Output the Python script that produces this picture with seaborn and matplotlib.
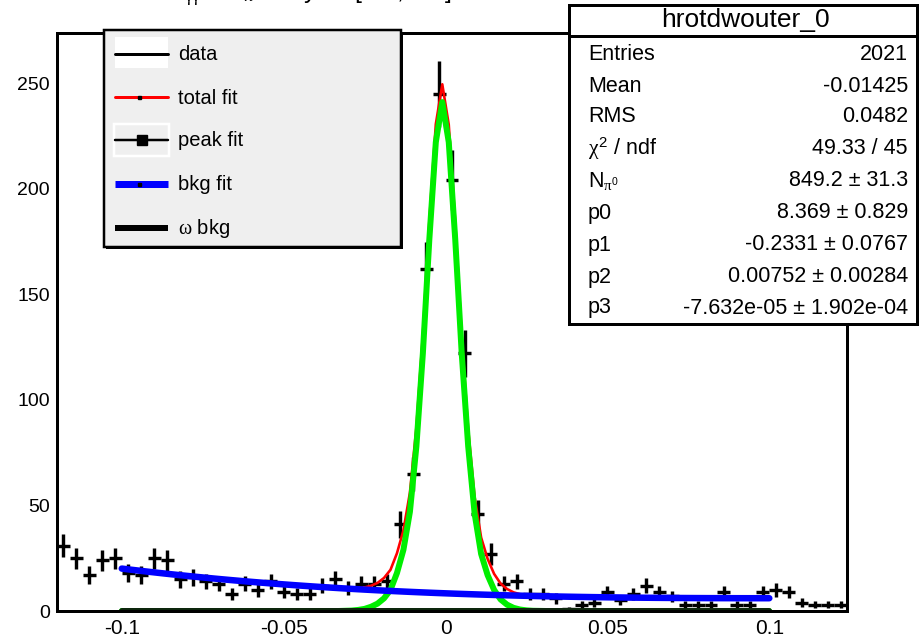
import numpy as np
import matplotlib
matplotlib.use("Agg")
import matplotlib.pyplot as plt
import seaborn as sns
from matplotlib.patches import Rectangle
from matplotlib.ticker import MultipleLocator

# ---------------- data ----------------
bin_low = -0.12
bin_width = 0.004
counts = [31, 25, 17, 24, 25, 18, 17, 25, 24, 15,
          16, 14, 13, 8, 13, 10, 14, 9, 8, 8,
          12, 15, 11, 13, 13, 14, 41, 65, 162, 245,
          204, 122, 46, 27, 13, 14, 8, 8, 6, 1,
          3, 4, 9, 5, 8, 12, 9, 7, 3, 3,
          3, 9, 3, 3, 9, 10, 9, 4, 3, 3,
          3]

# background polynomial (fit parameters shown in the stats box), u = x / bin width
bkg_params = [8.369, -0.2331, 0.00752, -7.632e-05]

# peak fit curve
peak_x = [-0.031, -0.029, -0.027, -0.025, -0.023, -0.021, -0.019, -0.017, -0.015,
          -0.013, -0.011, -0.009, -0.007, -0.005, -0.003, -0.001,
          0.001, 0.003, 0.005, 0.007, 0.009, 0.011, 0.013, 0.015, 0.017,
          0.019, 0.021, 0.023, 0.025, 0.027, 0.029]
peak_y = [0.1, 0.2, 0.5, 1.0, 2.0, 3.5, 6.0, 10.0, 18.0,
          29.0, 47.0, 78.0, 122.0, 176.0, 222.0, 241.0,
          222.0, 176.0, 122.0, 78.0, 46.0, 27.0, 17.0, 10.0, 5.5,
          3.0, 1.5, 0.7, 0.3, 0.1, 0.05]

fit_range = (-0.1, 0.1)

x_ticks = [-0.1, -0.05, 0, 0.05, 0.1]
x_tick_labels = ["-0.1", "-0.05", "0", "0.05", "0.1"]
y_ticks = [0, 50, 100, 150, 200, 250]

title_text = r"m$_{\gamma\gamma}$ - m$_{\pi^{0}}$ for y $\in$ [0.0, 0.5]"
stats_title = "hrotdwouter_0"
stats_labels = ["Entries", "Mean", "RMS", r"$\chi^{2}$ / ndf", r"N$_{\pi^{0}}$",
                "p0", "p1", "p2", "p3"]
stats_values = ["2021", "-0.01425", "0.0482", "49.33 / 45", "849.2 ± 31.3",
                "8.369 ± 0.829", "-0.2331 ± 0.0767", "0.00752 ± 0.00284",
                "-7.632e-05 ± 1.902e-04"]
legend_labels = ["data", "total fit", "peak fit", "bkg fit", r"$\omega$ bkg"]

# ---------------- derived ----------------
counts = np.array(counts, dtype=float)
centers = bin_low + bin_width * (np.arange(len(counts)) + 0.5)
errs = np.sqrt(counts)

grid = np.concatenate([[fit_range[0]], np.arange(-0.099, 0.0995, 0.002), [fit_range[1]]])
u = grid / bin_width
bkg = sum(p * u ** k for k, p in enumerate(bkg_params))
peak = np.zeros_like(grid)
for px, py in zip(peak_x, peak_y):
    peak[np.isclose(grid, px)] = py
total = peak + bkg

# ---------------- style ----------------
sns.set_theme(style="white")
plt.rcParams["font.family"] = ["Liberation Sans", "DejaVu Sans"]
plt.rcParams["mathtext.fontset"] = "custom"
plt.rcParams["mathtext.rm"] = "Liberation Sans"
plt.rcParams["mathtext.it"] = "Liberation Serif"
plt.rcParams["mathtext.bf"] = "Liberation Sans:bold"

PX = 72.0 / 100.0  # points per pixel

fig = plt.figure(figsize=(9.23, 6.4), dpi=100)
fig.patch.set_facecolor("white")
ax = fig.add_axes([57 / 923, 29 / 640, 790 / 923, 578 / 640])
ax.set_facecolor("white")

ax.errorbar(centers, counts, yerr=errs, xerr=bin_width / 2, fmt="none",
            ecolor="black", elinewidth=3.4 * PX, capsize=0, zorder=2)

sns.lineplot(x=grid, y=total, color="#ff0000", linewidth=2.6 * PX, ax=ax,
             sort=False, zorder=3, legend=False)
sns.lineplot(x=grid, y=peak, color="#00ee00", linewidth=6 * PX, ax=ax,
             sort=False, zorder=4, legend=False)
sns.lineplot(x=grid, y=bkg, color="#0000ff", linewidth=6.5 * PX, ax=ax,
             sort=False, zorder=5, legend=False)
sns.lineplot(x=[fit_range[0], fit_range[1]], y=[0, 0], color="#0d260d",
             linewidth=6 * PX, ax=ax, zorder=6, legend=False)

ax.set_xlim(-0.12, 0.124)
ax.set_ylim(0, 273.7)
ax.set_xticks(x_ticks)
ax.set_xticklabels(x_tick_labels)
ax.set_yticks(y_ticks)
ax.xaxis.set_minor_locator(MultipleLocator(0.01))
ax.yaxis.set_minor_locator(MultipleLocator(10))
ax.tick_params(axis="both", which="both", direction="in", colors="black",
               width=3 * PX, top=False, right=False)
ax.tick_params(axis="x", which="major", length=17 * PX, pad=6, labelsize=15)
ax.tick_params(axis="x", which="minor", length=8.5 * PX)
ax.tick_params(axis="y", which="major", length=24 * PX, pad=5, labelsize=14)
ax.tick_params(axis="y", which="minor", length=12 * PX)
for s in ax.spines.values():
    s.set_linewidth(3 * PX)
    s.set_color("black")
    s.set_zorder(7)
ax.set_xlabel("")
ax.set_ylabel("")

# ---------------- overlay (pixel coordinates) ----------------
ov = fig.add_axes([0, 0, 1, 1], zorder=10)
ov.set_xlim(0, 923)
ov.set_ylim(640, 0)
ov.axis("off")
ov.patch.set_alpha(0)

# title, mostly above the top edge as in the reference
fig.text(163 / 923, 1 + 1 / 640, title_text,
         fontsize=18, ha="left", va="baseline", color="black")

# legend box
ov.add_patch(Rectangle((106, 32), 297, 217, facecolor="black", edgecolor="none"))
ov.add_patch(Rectangle((104, 30), 297, 217, facecolor="#efefef",
                       edgecolor="black", linewidth=2.5 * PX))
rows = [54, 97, 140, 184, 228]
x0, x1 = 115, 168
# data
ov.add_patch(Rectangle((x0, 37), x1 - x0, 31, facecolor="white", edgecolor="none"))
ov.plot([x0, x1], [rows[0], rows[0]], color="black", linewidth=3 * PX)
# total fit
ov.plot([x0, x1], [rows[1], rows[1]], color="#ff0000", linewidth=3 * PX)
ov.plot([139], [rows[1]], marker="s", color="black", markersize=3 * PX)
# peak fit
ov.add_patch(Rectangle((x0 - 1, 124), x1 - x0 + 2, 32, facecolor="#efefef",
                       edgecolor="white", linewidth=2.5 * PX))
ov.plot([x0, x1], [rows[2], rows[2]], color="black", linewidth=2.5 * PX)
ov.plot([142], [rows[2]], marker="s", color="black", markersize=10 * PX)
# bkg fit
ov.plot([x0, x1], [rows[3], rows[3]], color="#0000ff", linewidth=7 * PX,
        solid_capstyle="butt")
ov.plot([139], [rows[3]], marker="s", color="black", markersize=3 * PX)
# omega bkg
ov.plot([x0, x1], [rows[4], rows[4]], color="black", linewidth=6 * PX,
        solid_capstyle="butt")
for lab, ry in zip(legend_labels, rows):
    ov.text(178, ry + 1, lab, fontsize=14.5, ha="left", va="center", color="black")

# stats box
ov.add_patch(Rectangle((569, 5), 348, 319, facecolor="white",
                       edgecolor="black", linewidth=3 * PX))
ov.plot([569, 917], [36, 36], color="black", linewidth=3 * PX)
ov.text(745, 20, stats_title, fontsize=19, ha="center", va="center", color="black")
row_y = [55, 86, 117, 149, 181, 213, 245, 277, 308]
for lab, val, ry in zip(stats_labels, stats_values, row_y):
    ov.text(588, ry, lab, fontsize=15.5, ha="left", va="center", color="black")
    ov.text(908, ry, val, fontsize=15.5, ha="right", va="center", color="black")

fig.savefig("out.png", dpi=100, facecolor="white")
